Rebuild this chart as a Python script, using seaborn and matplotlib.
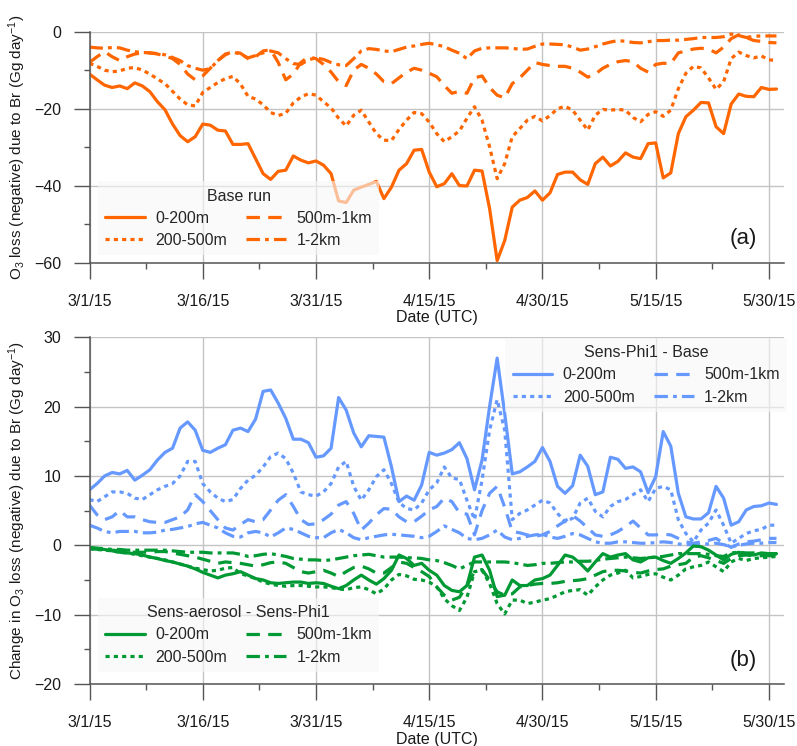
import numpy as np
import pandas as pd
import matplotlib
matplotlib.use("Agg")
import matplotlib.pyplot as plt
import matplotlib.dates as mdates
from matplotlib.ticker import FixedLocator, FuncFormatter, MultipleLocator
import seaborn as sns

sns.set_theme(style="white")
plt.rcParams["font.family"] = ["Liberation Sans", "DejaVu Sans"]
plt.rcParams["mathtext.default"] = "regular"

# Daily values, 3/1/2015 .. 5/31/2015
dates = pd.date_range("2015-03-01", periods=92, freq="D")

# (a) Base run: O3 loss due to Br (Gg/day) per altitude layer
base_0_200 = [
    -11.0, -12.5, -13.9, -14.5, -14.1, -14.8, -13.3, -14.1, -15.6, -18.2,
    -20.3, -24.0, -27.0, -28.6, -27.3, -24.0, -24.3, -25.6, -25.8, -29.3,
    -29.3, -29.1, -33.0, -36.9, -38.4, -36.3, -36.0, -32.3, -33.4, -34.1,
    -33.6, -34.7, -36.9, -44.0, -44.4, -41.2, -40.4, -39.7, -38.9, -43.4,
    -40.4, -36.0, -34.3, -30.8, -30.6, -36.5, -40.3, -39.5, -36.9, -40.0,
    -40.1, -36.0, -36.2, -46.0, -59.5, -54.3, -45.6, -43.8, -43.1, -41.4,
    -43.8, -41.9, -37.1, -36.5, -36.5, -38.5, -39.7, -34.3, -32.6, -34.9,
    -33.7, -31.5, -32.6, -33.0, -29.1, -28.9, -38.0, -36.7, -26.5, -22.1,
    -20.4, -18.4, -18.5, -24.7, -26.5, -18.8, -16.2, -16.8, -16.9, -14.5,
    -15.0, -14.9]
base_200_500 = [
    -8.2, -9.0, -10.0, -10.4, -10.2, -9.5, -9.3, -10.0, -11.0, -12.3,
    -13.5, -15.5, -17.5, -19.0, -19.3, -15.8, -14.5, -13.2, -12.2, -11.6,
    -13.6, -16.8, -17.5, -19.0, -21.0, -21.8, -21.2, -18.5, -17.0, -16.1,
    -16.5, -18.2, -19.8, -22.5, -24.5, -21.7, -20.4, -23.5, -26.5, -28.2,
    -28.3, -25.4, -23.0, -21.0, -21.3, -23.5, -26.5, -28.6, -27.3, -25.8,
    -22.5, -19.5, -23.0, -29.9, -38.2, -34.3, -27.3, -25.2, -23.0, -22.0,
    -23.2, -21.8, -20.0, -19.4, -20.4, -23.0, -25.6, -21.7, -20.2, -20.4,
    -20.2, -20.4, -22.3, -23.4, -21.5, -20.8, -22.0, -20.4, -14.8, -10.8,
    -9.0, -9.4, -12.0, -15.0, -13.0, -7.0, -5.3, -6.2, -6.8, -6.3,
    -7.3, -7.5]
base_500_1k = [
    -8.0, -6.5, -5.2, -6.5, -7.5, -6.5, -5.8, -5.5, -5.5, -5.8,
    -6.3, -7.0, -8.5, -11.0, -12.5, -11.5, -9.5, -7.5, -6.0, -5.2,
    -5.6, -7.0, -6.5, -5.0, -4.7, -8.0, -12.5, -11.0, -8.0, -6.5,
    -7.0, -8.5, -10.5, -13.0, -14.0, -10.0, -8.5, -9.5, -11.0, -13.0,
    -13.5, -12.0, -10.5, -9.5, -10.0, -10.8, -11.7, -14.0, -16.0, -15.5,
    -16.0, -12.0, -11.5, -14.5, -16.5, -17.2, -13.5, -12.0, -10.0, -8.0,
    -8.5, -8.8, -9.0, -9.0, -9.5, -10.5, -11.8, -11.0, -9.5, -8.5,
    -7.8, -7.5, -7.8, -9.5, -10.5, -8.5, -8.2, -8.3, -5.5, -5.0,
    -4.5, -4.3, -4.5, -5.5, -4.0, -1.8, -0.8, -1.5, -2.3, -2.5,
    -2.8, -2.9]
base_1_2k = [
    -4.0, -4.2, -4.3, -4.1, -4.2, -4.8, -5.2, -5.4, -5.5, -5.7,
    -6.0, -6.7, -7.5, -8.8, -9.5, -10.0, -9.6, -7.5, -5.8, -5.3,
    -5.8, -6.8, -6.2, -5.5, -5.0, -5.5, -7.0, -8.3, -8.5, -7.3,
    -6.8, -7.2, -8.0, -8.6, -8.8, -7.0, -5.0, -4.4, -4.6, -5.0,
    -5.2, -4.6, -4.0, -3.7, -3.3, -3.0, -3.4, -3.9, -4.8, -5.6,
    -7.0, -5.0, -4.3, -4.2, -4.2, -4.2, -4.3, -4.6, -4.5, -3.8,
    -3.2, -3.2, -3.3, -3.4, -4.0, -4.8, -4.5, -3.9, -3.2, -2.7,
    -2.3, -2.5, -2.8, -2.9, -2.6, -2.3, -2.3, -2.2, -2.2, -2.0,
    -1.8, -1.5, -1.5, -1.5, -1.3, -0.6, -1.0, -1.5, -1.2, -1.1,
    -1.1, -1.1]

# (b) Sens-Phi1 - Base
phi_0_200 = [
    8.0, 8.9, 10.0, 10.5, 10.3, 10.8, 9.4, 10.1, 10.9, 12.3,
    13.4, 14.0, 16.9, 17.8, 16.6, 13.7, 13.4, 14.0, 14.5, 16.6,
    16.9, 16.4, 18.2, 22.2, 22.4, 20.5, 18.3, 15.3, 15.3, 14.8,
    12.7, 12.9, 14.0, 21.3, 19.5, 16.2, 14.2, 15.8, 15.7, 15.6,
    11.3, 6.3, 7.1, 6.5, 8.7, 13.4, 13.0, 13.3, 13.8, 14.8,
    12.5, 8.0, 12.3, 20.0, 27.0, 19.0, 10.3, 10.6, 11.3, 12.1,
    14.1, 12.1, 8.5, 7.5, 8.6, 13.0, 11.4, 7.3, 7.7, 12.7,
    12.4, 11.1, 11.3, 10.6, 7.6, 9.9, 16.4, 14.3, 7.5, 4.1,
    3.8, 3.8, 4.7, 8.5, 6.8, 2.9, 3.4, 5.1, 5.6, 5.7,
    6.1, 5.9]
phi_200_500 = [
    6.6, 6.3, 7.0, 7.7, 7.7, 7.5, 6.8, 6.6, 7.3, 8.0,
    8.5, 8.9, 10.0, 12.1, 12.1, 8.9, 7.7, 6.8, 6.3, 6.6,
    8.2, 9.4, 10.1, 11.3, 12.8, 13.3, 12.5, 10.4, 7.7, 7.3,
    7.1, 7.7, 8.9, 11.3, 12.1, 8.5, 6.5, 8.0, 9.9, 10.9,
    8.9, 6.2, 5.3, 5.1, 6.1, 8.0, 9.0, 11.3, 9.7, 9.5,
    6.5, 3.7, 9.4, 16.6, 21.0, 16.6, 3.7, 4.6, 5.1, 5.8,
    6.5, 6.1, 4.6, 3.4, 3.9, 6.1, 6.8, 4.9, 4.1, 5.6,
    6.3, 6.6, 7.3, 8.0, 6.3, 8.2, 8.5, 8.0, 3.7, 1.7,
    0.5, 2.2, 3.2, 5.1, 2.9, 0.3, 1.0, 1.7, 2.1, 2.3,
    2.9, 2.9]
phi_500_1k = [
    5.8, 4.4, 3.7, 4.1, 5.0, 4.1, 4.1, 3.7, 3.4, 3.3,
    3.3, 3.7, 4.1, 5.1, 7.3, 6.3, 5.0, 3.7, 2.5, 2.2,
    3.0, 3.7, 3.4, 3.7, 5.1, 6.5, 7.3, 5.6, 3.7, 3.0,
    3.1, 3.7, 4.5, 5.8, 6.3, 4.6, 2.2, 3.2, 4.4, 5.3,
    5.2, 4.1, 3.4, 3.4, 4.2, 5.1, 5.6, 6.8, 6.3, 4.7,
    4.5, 1.5, 5.0, 7.5, 8.5, 5.5, 2.0, 1.8, 1.5, 1.3,
    1.5, 2.0, 2.8, 3.5, 4.3, 3.5, 2.5, 1.5, 1.3, 1.5,
    2.0, 2.7, 3.5, 2.5, 1.5, 1.5, 1.6, 1.5, 1.0, 0.5,
    0.3, 0.5, 0.7, 1.0, 0.3, -0.3, 0.2, 0.5, 0.6, 0.8,
    1.0, 1.0]
phi_1_2k = [
    2.9, 2.5, 2.0, 1.8, 2.0, 2.0, 2.0, 1.8, 1.8, 1.9,
    2.2, 2.3, 2.5, 2.7, 3.1, 3.3, 2.9, 2.5, 1.8, 1.3,
    1.2, 1.8, 2.0, 1.8, 1.2, 1.8, 2.5, 2.3, 1.8, 1.3,
    1.1, 1.1, 1.8, 2.3, 1.8, 1.1, 0.8, 1.1, 1.3, 1.5,
    1.6, 1.5, 1.4, 1.3, 1.1, 1.3, 2.0, 2.8, 2.3, 1.8,
    1.0, 0.8, 1.0, 1.5, 2.2, 1.2, 0.8, 1.0, 1.3, 1.5,
    1.6, 1.2, 1.0, 1.3, 1.7, 1.5, 1.0, 0.5, 0.3, 0.3,
    0.5, 0.5, 0.4, 0.3, 0.3, 0.4, 0.5, 0.4, 0.2, 0.1,
    0.1, 0.2, 0.2, 0.3, 0.1, -0.2, 0.0, 0.2, 0.3, 0.3,
    0.4, 0.4]

# (b) Sens-aerosol - Sens-Phi1
aer_0_200 = [
    -0.5, -0.55, -0.6, -0.8, -1.0, -1.1, -1.2, -1.4, -1.7, -1.9,
    -2.2, -2.4, -2.7, -3.0, -3.4, -3.9, -4.3, -4.7, -4.3, -4.1,
    -3.8, -4.3, -4.8, -5.0, -5.4, -5.5, -5.4, -5.3, -5.3, -5.5,
    -5.4, -5.5, -5.9, -6.25, -5.8, -5.0, -4.3, -5.0, -5.6, -4.8,
    -3.6, -1.4, -1.9, -2.9, -2.6, -3.6, -4.3, -5.8, -6.5, -6.7,
    -5.8, -1.7, -1.4, -3.6, -7.4, -7.2, -5.0, -5.8, -5.8, -5.0,
    -4.8, -4.3, -2.9, -1.4, -1.7, -2.6, -3.7, -2.4, -1.2, -1.7,
    -1.4, -1.2, -2.1, -2.4, -1.8, -1.7, -2.2, -2.6, -1.9, -1.1,
    -0.1, -0.2, -0.7, -1.4, -2.1, -1.3, -1.0, -1.3, -1.4, -1.1,
    -1.2, -1.2]
aer_200_500 = [
    -0.5, -0.6, -0.7, -0.8, -1.0, -1.1, -1.3, -1.5, -1.7, -1.9,
    -2.1, -2.4, -2.7, -3.0, -3.3, -3.5, -3.7, -3.6, -3.3, -3.2,
    -4.1, -4.4, -4.8, -5.3, -5.6, -5.8, -5.9, -5.8, -5.8, -5.9,
    -6.0, -6.0, -6.1, -6.3, -6.4, -6.1, -6.0, -6.4, -7.0, -6.3,
    -5.0, -4.2, -4.4, -4.9, -5.0, -5.3, -6.0, -7.7, -8.7, -9.4,
    -7.5, -3.8, -3.6, -5.5, -8.4, -9.9, -7.9, -7.9, -8.4, -8.2,
    -7.9, -7.7, -7.2, -6.7, -6.5, -6.4, -7.2, -6.0, -5.0, -4.3,
    -4.0, -3.6, -4.7, -4.5, -4.2, -4.1, -4.6, -5.0, -4.3, -3.4,
    -3.1, -2.9, -2.4, -3.1, -3.8, -2.4, -1.9, -2.2, -1.9, -1.8,
    -1.7, -1.6]
aer_500_1k = [
    -0.4, -0.5, -0.6, -0.7, -0.8, -0.9, -1.0, -1.0, -1.0, -0.9,
    -0.9, -1.1, -1.3, -1.5, -1.7, -2.0, -2.3, -2.6, -2.4, -2.5,
    -2.6, -2.8, -3.0, -2.8, -2.5, -2.4, -2.6, -3.2, -3.8, -4.0,
    -3.8, -3.6, -4.0, -4.5, -3.8, -3.2, -3.0, -3.4, -4.0, -4.0,
    -3.2, -2.4, -2.6, -3.2, -3.8, -4.5, -6.0, -7.2, -7.9, -7.5,
    -5.8, -3.8, -3.5, -5.0, -6.7, -7.2, -7.0, -6.0, -5.8, -5.6,
    -5.5, -5.5, -5.4, -5.2, -5.1, -5.0, -4.8, -4.3, -3.8, -3.6,
    -3.6, -3.7, -3.9, -4.0, -3.7, -3.5, -3.4, -3.0, -2.8, -2.6,
    -1.7, -1.5, -1.8, -2.2, -2.6, -1.9, -1.5, -1.4, -1.5, -1.5,
    -1.5, -1.5]
aer_1_2k = [
    -0.3, -0.4, -0.5, -0.6, -0.6, -0.7, -0.7, -0.7, -0.7, -0.7,
    -0.7, -0.8, -0.9, -1.0, -1.0, -1.0, -1.1, -1.1, -1.1, -1.1,
    -1.3, -1.6, -1.5, -1.3, -1.2, -1.4, -1.6, -1.9, -2.0, -2.1,
    -2.1, -2.2, -2.1, -1.9, -1.7, -1.5, -1.4, -1.3, -1.5, -1.7,
    -1.7, -1.7, -1.8, -1.8, -1.9, -2.1, -2.2, -2.5, -2.9, -3.4,
    -2.9, -2.4, -2.4, -2.4, -2.4, -2.4, -2.5, -2.7, -2.9, -2.8,
    -2.6, -2.6, -2.5, -2.4, -2.4, -2.3, -2.3, -2.2, -2.0, -1.9,
    -1.8, -1.7, -1.8, -1.9, -1.8, -1.7, -1.6, -1.4, -1.2, -1.2,
    -1.2, -1.2, -1.3, -1.5, -1.6, -1.1, -1.0, -1.1, -1.1, -1.2,
    -1.2, -1.3]

layer_labels = ["0-200m", "200-500m", "500m-1km", "1-2km"]
tick_dates = pd.date_range("2015-03-01", periods=7, freq="15D")

ORANGE = "#FF6600"
BLUE = "#6699FF"
GREEN = "#009933"
LW = 2.3
STYLES = ["-", (0, (1.3, 1.3)), (0, (4.2, 2.6)), (0, (4.2, 1.6, 1.2, 1.6))]
FS = 11.5
TICK_GRAY = "#555555"


def draw_group(ax, series, color):
    lines = []
    for vals, ls in zip(series, STYLES):
        sns.lineplot(x=dates, y=vals, ax=ax, color=color, linewidth=LW,
                     linestyle=ls, legend=False)
        lines.append(ax.lines[-1])
    return lines


def date_label(v, pos):
    d = mdates.num2date(v)
    return f"{d.month}/{d.day}/{d.year % 100}"


def style_axes(ax, ymin, ymax, ystep, ylabel):
    ax.set_xlim(dates[0], dates[0] + pd.Timedelta(days=92))
    ax.set_ylim(ymin, ymax)
    ax.xaxis.set_major_locator(FixedLocator(mdates.date2num(tick_dates)))
    ax.xaxis.set_minor_locator(FixedLocator(
        mdates.date2num(tick_dates + pd.Timedelta(hours=180))))
    ax.xaxis.set_major_formatter(FuncFormatter(date_label))
    ax.yaxis.set_major_locator(MultipleLocator(ystep))
    ax.yaxis.set_minor_locator(MultipleLocator(ystep / 2))
    ax.grid(True, which="major", color="#c4c4c4", linewidth=1.0)
    ax.set_axisbelow(True)
    for side in ("top", "right"):
        ax.spines[side].set_visible(False)
    for side in ("left", "bottom"):
        ax.spines[side].set_color(TICK_GRAY)
        ax.spines[side].set_linewidth(1.1)
    ax.tick_params(axis="both", which="both", bottom=True, left=True,
                   top=False, right=False, direction="out", color=TICK_GRAY,
                   width=1.0)
    ax.tick_params(axis="both", which="major", length=11.5, labelsize=FS,
                   labelcolor="#1a1a1a")
    ax.tick_params(axis="both", which="minor", length=4.5)
    ax.tick_params(axis="x", which="major", pad=11)
    ax.tick_params(axis="y", which="major", pad=9)
    ax.set_xlabel("Date (UTC)", fontsize=FS, color="#1a1a1a", labelpad=1)
    ax.set_ylabel(ylabel, fontsize=11, color="#1a1a1a")
    ax.yaxis.set_label_coords(-0.089, 0.5)


def add_legend(ax, handles, title, loc, anchor):
    leg = ax.legend(handles=handles, labels=layer_labels, title=title, ncol=2,
                    loc=loc, bbox_to_anchor=anchor, borderaxespad=0,
                    fontsize=FS, title_fontsize=FS, handlelength=2.5,
                    handletextpad=0.65, columnspacing=1.2, labelspacing=0.45,
                    borderpad=0.45, frameon=True, fancybox=False)
    frame = leg.get_frame()
    frame.set_facecolor("#f7f7f7")
    frame.set_edgecolor("none")
    frame.set_alpha(0.62)
    return leg


fig = plt.figure(figsize=(7.97, 7.46), dpi=100)
ax_a = fig.add_axes([0.1123, 0.6481, 0.8714, 0.3094])
ax_b = fig.add_axes([0.1123, 0.0831, 0.8714, 0.4648])

# Panel (a)
lines_a = draw_group(ax_a, [base_0_200, base_200_500, base_500_1k, base_1_2k], ORANGE)
style_axes(ax_a, -60, 0, 20, "O$_3$ loss (negative) due to Br (Gg day$^{-1}$)")
add_legend(ax_a, lines_a, "Base run", "lower left", (0.012, 0.032))
ax_a.text(0.941, 0.106, "(a)", transform=ax_a.transAxes, ha="center",
          va="center", fontsize=16, color="#1a1a1a")

# Panel (b)
lines_phi = draw_group(ax_b, [phi_0_200, phi_200_500, phi_500_1k, phi_1_2k], BLUE)
lines_aer = draw_group(ax_b, [aer_0_200, aer_200_500, aer_500_1k, aer_1_2k], GREEN)
style_axes(ax_b, -20, 30, 10, "Change in O$_3$ loss (negative) due to Br (Gg day$^{-1}$)")
leg_phi = add_legend(ax_b, lines_phi, "Sens-Phi1 - Base", "upper right", (1.004, 0.998))
ax_b.add_artist(leg_phi)
add_legend(ax_b, lines_aer, "Sens-aerosol - Sens-Phi1", "lower left", (0.012, 0.035))
ax_b.text(0.941, 0.069, "(b)", transform=ax_b.transAxes, ha="center",
          va="center", fontsize=16, color="#1a1a1a")

fig.savefig("out.png", dpi=100)
